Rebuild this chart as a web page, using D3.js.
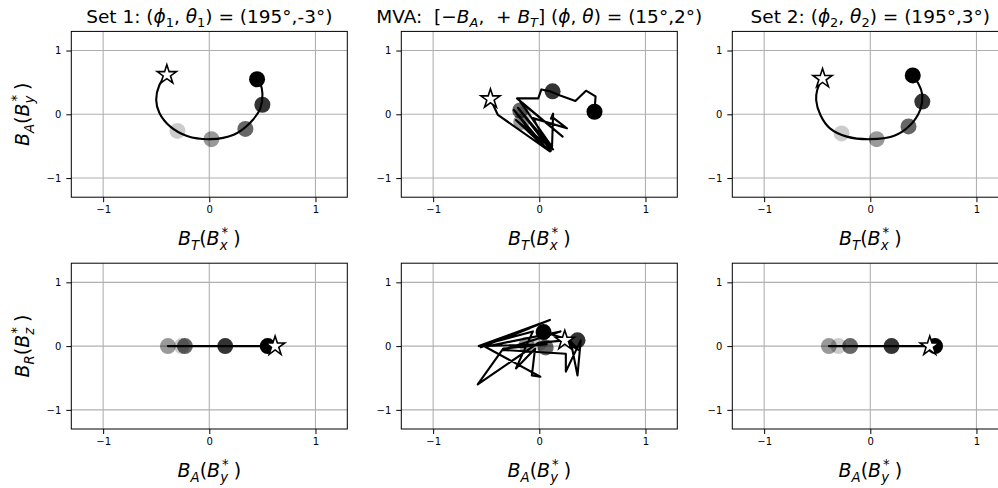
<!DOCTYPE html>
<html>
<head>
<meta charset="utf-8">
<script src="https://cdn.jsdelivr.net/npm/d3@7"></script>
<style>
	body { margin: 0; background: #fff; }
	text { font-family: 'DejaVu Sans', sans-serif; fill: #000; white-space: pre; }
</style>
</head>
<body>
<script>

// Set 1 : field components along the path
var set1T = [-0.40, -0.47, -0.50, -0.47, -0.37, -0.21, 0.01, 0.23, 0.38, 0.48, 0.50, 0.48, 0.46]
var set1A = [0.62, 0.46, 0.22, 0.02, -0.19, -0.34, -0.39, -0.32, -0.14, 0.09, 0.33, 0.49, 0.55]
var set1R = [0, 0, 0, 0, 0, 0, 0, 0, 0, 0, 0, 0, 0]
var set1DotT = [-0.30, 0.02, 0.34, 0.50, 0.45]
var set1DotA = [-0.26, -0.39, -0.23, 0.15, 0.55]
var set1DotR = [0, 0, 0, 0, 0]

// MVA
var mvaT = [-0.46, -0.39, 0.10, -0.05, -0.24, 0.08, -0.22, 0.13, -0.20, 0.11, -0.06, 0.26, 0.12, 0.11, 0.13, 0.12, -0.18, 0.22, -0.21, -0.01, 0.02, 0.10, 0.19, 0.34, 0.44, 0.53, 0.52]
var mvaA = [0.24, -0.01, -0.58, -0.34, 0.07, -0.56, -0.09, -0.55, 0.10, -0.57, -0.06, -0.22, -0.04, -0.07, 0.01, -0.51, 0.20, -0.35, 0.25, 0.25, 0.39, 0.36, 0.30, 0.21, 0.37, 0.28, 0.04]
var mvaR = [0.09, 0.05, -0.60, -0.04, 0.03, 0.00, 0.28, -0.02, 0.41, 0.00, 0.23, -0.35, -0.04, -0.46, -0.48, -0.01, 0.23, -0.06, -0.12, -0.40, 0.09, -0.46, 0.04, 0.09, -0.06, 0.10, 0.22]
var mvaDotT = [-0.15, -0.17, -0.18, 0.125, 0.52]
var mvaDotA = [0.00, -0.12, 0.06, 0.36, 0.04]
var mvaDotR = [0.05, 0.02, -0.02, 0.09, 0.22]

// Set 2
var set2T = [-0.45, -0.50, -0.51, -0.47, -0.38, -0.22, 0.00, 0.22, 0.37, 0.47, 0.49, 0.45, 0.40]
var set2A = [0.56, 0.38, 0.22, -0.01, -0.22, -0.35, -0.39, -0.34, -0.18, 0.07, 0.30, 0.49, 0.59]
var set2R = [0, 0, 0, 0, 0, 0, 0, 0, 0, 0, 0, 0, 0]
var set2DotT = [-0.27, 0.06, 0.36, 0.49, 0.40]
var set2DotA = [-0.30, -0.39, -0.19, 0.20, 0.61]
var set2DotR = [0, 0, 0, 0, 0]

var dotShade = [0.2, 0.4, 0.6, 0.8, 1.0]
var ticks = [-1, 0, 1]
var limits = [-1.3, 1.3]

var sets = [
	{ T : set1T, A : set1A, R : set1R, dT : set1DotT, dA : set1DotA, dR : set1DotR },
	{ T : mvaT, A : mvaA, R : mvaR, dT : mvaDotT, dA : mvaDotA, dR : mvaDotR },
	{ T : set2T, A : set2A, R : set2R, dT : set2DotT, dA : set2DotA, dR : set2DotR }
]

// math-ish labels: '' roman, 'i' italic, 'b' subscript, 'p' superscript
var titles = [
	[['Set 1: (', ''], ['ϕ', 'i'], ['1', 'b'], [', ', ''], ['θ', 'i'], ['1', 'b'], [') = (195°,-3°)', '']],
	[['MVA:  [−', ''], ['B', 'i'], ['A', 'bi'], [',  + ', ''], ['B', 'i'], ['T', 'bi'], ['] (', ''], ['ϕ', 'i'], [', ', ''], ['θ', 'i'], [') = (15°,2°)', '']],
	[['Set 2: (', ''], ['ϕ', 'i'], ['2', 'b'], [', ', ''], ['θ', 'i'], ['2', 'b'], [') = (195°,3°)', '']]
]
var xLabelTop = [['B', 'i'], ['T', 'bi'], ['(', ''], ['B', 'i'], ['x', 'bi'], ['*', 'p', -6], [')', '', 5]]
var xLabelBottom = [['B', 'i'], ['A', 'bi'], ['(', ''], ['B', 'i'], ['y', 'bi'], ['*', 'p', -6], [')', '', 5]]
var yLabelTop = xLabelBottom
var yLabelBottom = [['B', 'i'], ['R', 'bi'], ['(', ''], ['B', 'i'], ['z', 'bi'], ['*', 'p', -6], [')', '', 5]]

var width = 998
var height = 488
var colLeft = [71.3, 401.3, 732.3]
var rowTop = [31.4, 263.2]
var panelW = 276
var panelH = 165.8

var svg = d3.select('body')
	.append('svg')
	.attr('width', width)
	.attr('height', height)

function mathText(sel, parts, size) {
	var text = sel.append('text').attr('font-size', size)
	var cur = 0
	parts.forEach(function (p) {
		var style = p[1]
		var small = style.indexOf('b') >= 0 || style.indexOf('p') >= 0
		var off = style.indexOf('b') >= 0 ? size * 0.24 : style.indexOf('p') >= 0 ? -size * 0.42 : 0
		var t = text.append('tspan')
			.text(p[0])
			.attr('dy', off - cur)
			.attr('font-size', small ? size * 0.7 : size)
			.attr('font-style', (style.indexOf('i') >= 0) ? 'italic' : 'normal')
		if (p[2])
			t.attr('dx', p[2])
		cur = off
	})
	return text
}

function drawPanel(col, row, set) {

	var x0 = colLeft[col]
	var y0 = rowTop[row]

	var xScale = d3.scaleLinear().domain(limits).range([x0, x0 + panelW])
	var yScale = d3.scaleLinear().domain(limits).range([y0 + panelH, y0])

	// top row : (B_T, B_A), bottom row : (B_A, B_R)
	var xs = row === 0 ? set.T : set.A
	var ys = row === 0 ? set.A : set.R
	var dxs = row === 0 ? set.dT : set.dA
	var dys = row === 0 ? set.dA : set.dR

	var g = svg.append('g')

	var grid = g.append('g')
	grid.selectAll('.gx').data(ticks).enter().append('line')
		.attr('x1', d => xScale(d)).attr('x2', d => xScale(d))
		.attr('y1', y0).attr('y2', y0 + panelH)
		.attr('stroke', '#b0b0b0').attr('stroke-width', 1.1)
	grid.selectAll('.gy').data(ticks).enter().append('line')
		.attr('y1', d => yScale(d)).attr('y2', d => yScale(d))
		.attr('x1', x0).attr('x2', x0 + panelW)
		.attr('stroke', '#b0b0b0').attr('stroke-width', 1.1)

	var dots = dxs.map((d, i) => ({ x : d, y : dys[i], a : dotShade[i] }))
	g.selectAll('.dot').data(dots).enter().append('circle')
		.attr('cx', d => xScale(d.x))
		.attr('cy', d => yScale(d.y))
		.attr('r', 8)
		.attr('fill', '#000')
		.attr('fill-opacity', d => d.a)

	var pts = xs.map((d, i) => [d, ys[i]])
	var line = d3.line()
		.x(d => xScale(d[0]))
		.y(d => yScale(d[1]))
		.curve(col === 1 ? d3.curveLinear : d3.curveCatmullRom)

	g.append('path')
		.datum(pts)
		.attr('d', line)
		.attr('fill', 'none')
		.attr('stroke', '#000')
		.attr('stroke-width', 2.1)
		.attr('stroke-linejoin', 'round')

	g.append('path')
		.attr('d', d3.symbol(d3.symbolStar, 115)())
		.attr('transform', `translate(${xScale(pts[0][0])}, ${yScale(pts[0][1])})`)
		.attr('fill', '#fff')
		.attr('stroke', '#000')
		.attr('stroke-width', 1.6)
		.attr('stroke-linejoin', 'miter')

	var xAxis = g.append('g')
		.attr('transform', `translate(0, ${y0 + panelH})`)
		.call(d3.axisBottom(xScale).tickValues(ticks).tickSize(5).tickPadding(4).tickFormat(d3.format('d')))
	var yAxis = g.append('g')
		.attr('transform', `translate(${x0}, 0)`)
		.call(d3.axisLeft(yScale).tickValues(ticks).tickSize(5).tickPadding(5).tickFormat(d3.format('d')))

	;[xAxis, yAxis].forEach(function (a) {
		a.select('.domain').remove()
		a.selectAll('text').attr('font-size', 10).attr('font-family', "'DejaVu Sans', sans-serif")
		a.selectAll('line').attr('stroke', '#000').attr('stroke-width', 1)
	})

	// frame
	g.append('rect')
		.attr('x', x0).attr('y', y0)
		.attr('width', panelW).attr('height', panelH)
		.attr('fill', 'none')
		.attr('stroke', '#000')
		.attr('stroke-width', 1)

	mathText(g, row === 0 ? xLabelTop : xLabelBottom, 19)
		.attr('x', xScale(0))
		.attr('y', y0 + panelH + 48)
		.attr('text-anchor', 'middle')

	if (col === 0) {
		mathText(g, row === 0 ? yLabelTop : yLabelBottom, 19)
			.attr('text-anchor', 'middle')
			.attr('transform', `translate(29, ${yScale(0)}) rotate(-90)`)
	}

	if (row === 0) {
		mathText(g, titles[col], 18.5)
			.attr('x', xScale(0))
			.attr('y', y0 - 8.5)
			.attr('text-anchor', 'middle')
	}
}

sets.forEach(function (set, col) {
	drawPanel(col, 0, set)
	drawPanel(col, 1, set)
})

</script>
</body>
</html>
